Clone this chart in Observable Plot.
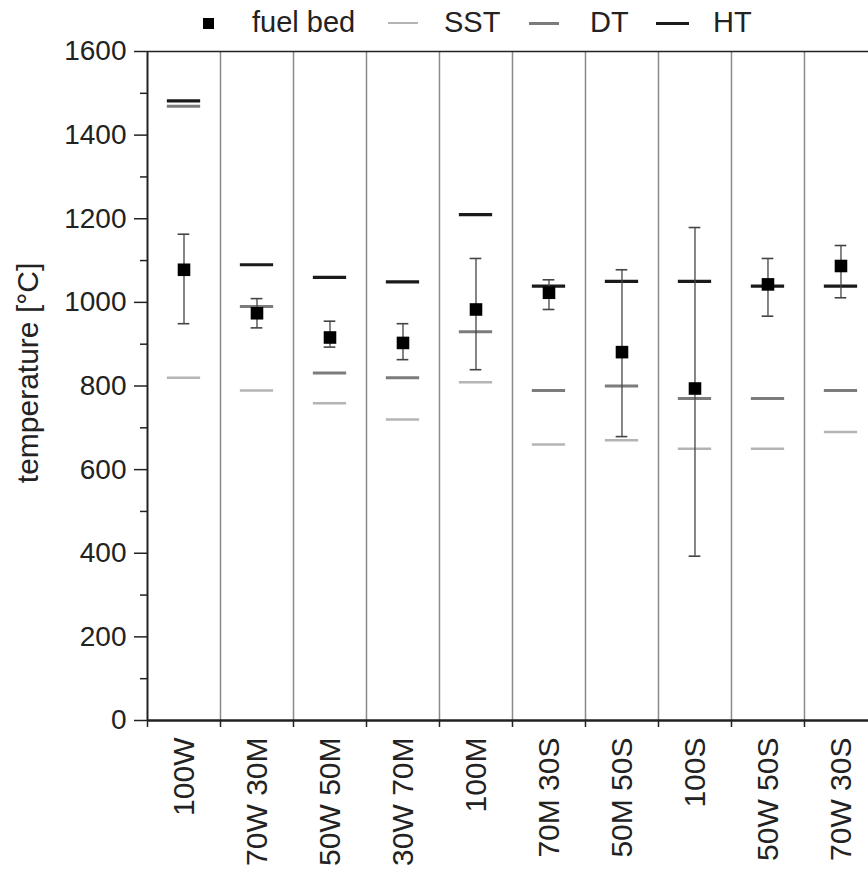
<!DOCTYPE html>
<html>
<head>
<meta charset="utf-8">
<script src="https://cdn.jsdelivr.net/npm/d3@7"></script>
<script src="https://cdn.jsdelivr.net/npm/@observablehq/plot@0.6"></script>
<style>
  body { margin: 0; background: #fff; font-family: "Liberation Sans", Arial, sans-serif; }
  #wrap { position: relative; width: 868px; height: 870px; overflow: hidden; }
  #legend { position: absolute; left: 0; top: 0; width: 868px; height: 45px; z-index: 2; font-size: 29px; color: #222; }
  #legend .it { position: absolute; line-height: 29px; white-space: nowrap; }
  #legend .sw { position: absolute; height: 0; }
  #legend .sq { position: absolute; background: #000; }
</style>
</head>
<body>
<div id="wrap"><div id="legend"></div><div id="chart"></div></div>
<script>
// ---- data ----
const categories = ["100W", "70W 30M", "50W 50M", "30W 70M", "100M", "70M 30S", "50M 50S", "100S", "50W 50S", "70W 30S"];
const fuelBed  = [1078, 974, 916, 903, 983, 1023, 881, 794, 1043, 1087];
const fuelLow  = [949, 939, 893, 863, 839, 983, 679, 393, 967, 1011];
const fuelHigh = [1163, 1009, 955, 949, 1105, 1054, 1078, 1179, 1105, 1136];
const sst = [820, 789, 759, 720, 809, 660, 670, 650, 650, 690];
const dt  = [1469, 990, 831, 820, 930, 789, 800, 770, 770, 789];
const ht  = [1482, 1090, 1060, 1049, 1210, 1039, 1050, 1050, 1039, 1039];
const yTicks = [0, 200, 400, 600, 800, 1000, 1200, 1400, 1600];
const yMinorTicks = [100, 300, 500, 700, 900, 1100, 1300, 1500];
const yLabel = "temperature [°C]";
const legendLabels = ["fuel bed", "SST", "DT", "HT"];

// ---- styles ----
const colSST = "#b4b4b4", colDT = "#7c7c7c", colHT = "#1a1a1a";
const SEG = 0.228, CAP = 0.08;

const rows = categories.map((c, i) => ({
  i, c, fuel: fuelBed[i], lo: fuelLow[i], hi: fuelHigh[i], sst: sst[i], dt: dt[i], ht: ht[i]
}));
const seps = categories.slice(1).map((_, i) => i + 0.5);
const bounds = categories.map((_, i) => i - 0.5);

const chart = Plot.plot({
  width: 868,
  height: 870,
  marginTop: 51,
  marginBottom: 150,
  marginLeft: 147,
  marginRight: 0,
  style: { fontFamily: '"Liberation Sans", Arial, sans-serif', fontSize: "28px", color: "#222", background: "#fff", overflow: "visible" },
  x: { type: "linear", domain: [-0.5, 9.377] },
  y: { domain: [0, 1600] },
  marks: [
    Plot.ruleX(seps, { stroke: "#8a8a8a", strokeWidth: 1.5 }),
    Plot.ruleY([1600], { stroke: "#222", strokeWidth: 1.6 }),
    Plot.ruleX([bounds[0]], { stroke: "#222", strokeWidth: 2 }),
    Plot.ruleY([0], { stroke: "#222", strokeWidth: 2.5 }),
    Plot.axisY(yTicks, { tickSize: 13, tickPadding: 8, fontSize: 28, label: null, strokeWidth: 1.5, tickFormat: d => String(d) }),
    Plot.axisY(yMinorTicks, { tickSize: 7, tickFormat: () => "", label: null, strokeWidth: 1.5 }),
    Plot.axisX(bounds, { tickSize: 7, tickFormat: () => "", label: null, strokeWidth: 1.5 }),
    Plot.text(rows, { x: "i", text: "c", frameAnchor: "bottom", rotate: -90, textAnchor: "end", lineAnchor: "middle", dy: 17, fontSize: 30, fill: "#222" }),
    Plot.text([yLabel], { frameAnchor: "left", rotate: -90, textAnchor: "middle", lineAnchor: "middle", dx: -119, dy: -13, fontSize: 30, fill: "#222" }),
    Plot.ruleY(rows, { y: "sst", x1: d => d.i - SEG, x2: d => d.i + SEG, stroke: colSST, strokeWidth: 2.5 }),
    Plot.ruleY(rows, { y: "dt", x1: d => d.i - SEG, x2: d => d.i + SEG, stroke: colDT, strokeWidth: 3 }),
    Plot.ruleY(rows, { y: "ht", x1: d => d.i - SEG, x2: d => d.i + SEG, stroke: colHT, strokeWidth: 3.2 }),
    Plot.ruleX(rows, { x: "i", y1: "lo", y2: "hi", stroke: "#444", strokeWidth: 1.3 }),
    Plot.ruleY(rows, { y: "lo", x1: d => d.i - CAP, x2: d => d.i + CAP, stroke: "#444", strokeWidth: 1.6 }),
    Plot.ruleY(rows, { y: "hi", x1: d => d.i - CAP, x2: d => d.i + CAP, stroke: "#444", strokeWidth: 1.6 }),
    Plot.dot(rows, { x: "i", y: "fuel", symbol: "square", r: 7.1, fill: "#000", stroke: "none" })
  ]
});
document.getElementById("chart").appendChild(chart);

// ---- legend (HTML above the plot) ----
const lg = document.getElementById("legend");
const sq = document.createElement("div");
sq.className = "sq";
Object.assign(sq.style, { left: "203px", top: "18px", width: "11px", height: "11px" });
lg.appendChild(sq);
const textX = [252, 444, 590, 713];
const swatches = [null, { x: 388, w: 30, c: colSST, t: 2.5 }, { x: 529, w: 30, c: colDT, t: 3 }, { x: 656, w: 33, c: colHT, t: 3 }];
legendLabels.forEach((lab, k) => {
  const s = swatches[k];
  if (s) {
    const d = document.createElement("div");
    d.className = "sw";
    Object.assign(d.style, { left: s.x + "px", top: (23 - s.t / 2) + "px", width: s.w + "px", borderTop: s.t + "px solid " + s.c });
    lg.appendChild(d);
  }
  const t = document.createElement("div");
  t.className = "it";
  t.textContent = lab;
  Object.assign(t.style, { left: textX[k] + "px", top: "8px" });
  lg.appendChild(t);
});
</script>
</body>
</html>
